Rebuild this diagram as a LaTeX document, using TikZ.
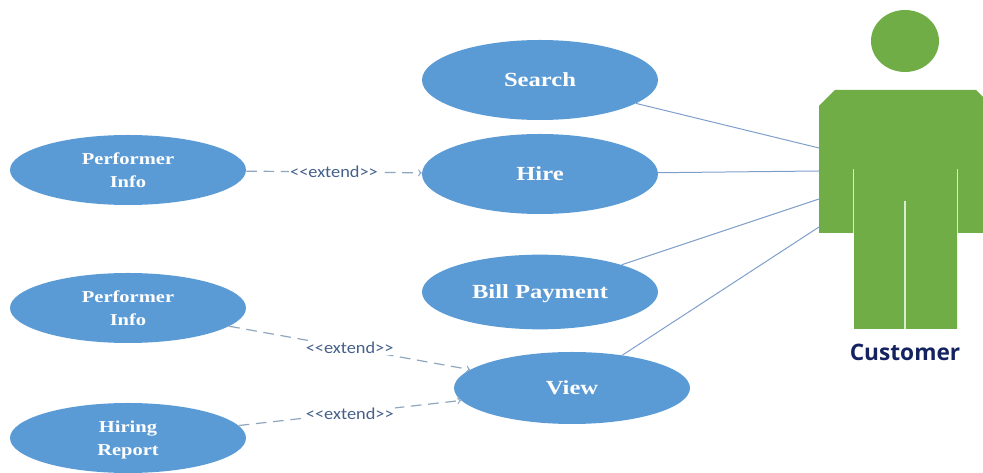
\documentclass[tikz,border=0pt]{standalone}
\usepackage{fontspec}
\setmainfont{Liberation Serif}
\newfontfamily\casefont[FakeStretch=1.23]{Liberation Serif}
\newfontfamily\labelfont[FakeStretch=1.1]{Carlito}
\newfontfamily\actorfont{Open Sans}
\definecolor{usecase}{HTML}{5B9BD5}
\definecolor{actor}{HTML}{70AD47}
\definecolor{assoc}{HTML}{7F9FCB}
\definecolor{dashline}{HTML}{8FA6BE}
\definecolor{extendtext}{HTML}{44608A}
\definecolor{actortext}{HTML}{14235F}
\tikzset{
	usecasebox/.style={ellipse,fill=usecase,text=white,inner sep=0pt,
		minimum width=177pt,align=center,font=\casefont\bfseries\fontsize{15}{18}\selectfont},
	smallcase/.style={usecasebox,minimum height=52.5pt,font=\casefont\bfseries\fontsize{12.5}{17}\selectfont},
	assocline/.style={color=assoc,line width=0.75pt},
	extendline/.style={->,color=dashline,line width=0.9pt,dash pattern=on 8pt off 5pt},
	extendlabel/.style={fill=white,inner sep=1pt,text=extendtext,font=\labelfont\fontsize{12.5}{13}\selectfont},
}
\usetikzlibrary{shapes.geometric}
\begin{document}
\begin{tikzpicture}[x=0.75pt,y=-0.75pt,>=to]
\useasboundingbox (0,0) rectangle (983,473);
% actor
\fill[color=actor] (905,41) ellipse [x radius=34,y radius=31];
\fill[color=actor] (819,106) -- (835,90) -- (976,90) -- (983,97) -- (983,233)
	-- (957,233) -- (957,329) -- (854,329) -- (854,233) -- (819,233) -- cycle;
\draw[color=white!75!actor,line width=0.8pt] (853.5,169) -- (853.5,233);
\draw[color=white!75!actor,line width=0.8pt] (905,201) -- (905,329);
\draw[color=white!75!actor,line width=0.8pt] (957.5,169) -- (957.5,233);
\node[text=actortext,font=\actorfont\bfseries\fontsize{17}{20}\selectfont] (customer) at (905,352) {Customer};
\coordinate (armA) at (819,148);
\coordinate (armB) at (819,171);
\coordinate (armC) at (819,199);
\coordinate (armD) at (819,227);
% use cases
\node[usecasebox,minimum height=60pt] (search) at (540,80) {Search};
\node[usecasebox,minimum height=60pt] (hire) at (540,174) {Hire};
\node[usecasebox,minimum height=56pt,text depth=0pt] (bill) at (540,292) {Bill Payment};
\node[usecasebox,minimum height=54pt] (view) at (572,388) {View};
\node[smallcase] (infoA) at (128,170) {Performer\\Info};
\node[smallcase] (infoB) at (128,308) {Performer\\Info};
\node[smallcase,text depth=0pt] (report) at (128,438) {Hiring\\Report};
% connectors
\foreach \a/\b in {search/armA,hire/armB,bill/armC,view/armD}{
	\draw[assocline] (\a) -- (\b);
}
\draw[extendline] (infoA) -- (hire) node[extendlabel,pos=0.5] (extA) {<{}<extend>{}>};
\draw[extendline] (infoB) -- (view) node[extendlabel,pos=0.5] (extB) {<{}<extend>{}>};
\draw[extendline] (report) -- (view) node[extendlabel,pos=0.5,yshift=-0.75pt] (extC) {<{}<extend>{}>};
\end{tikzpicture}
\end{document}
